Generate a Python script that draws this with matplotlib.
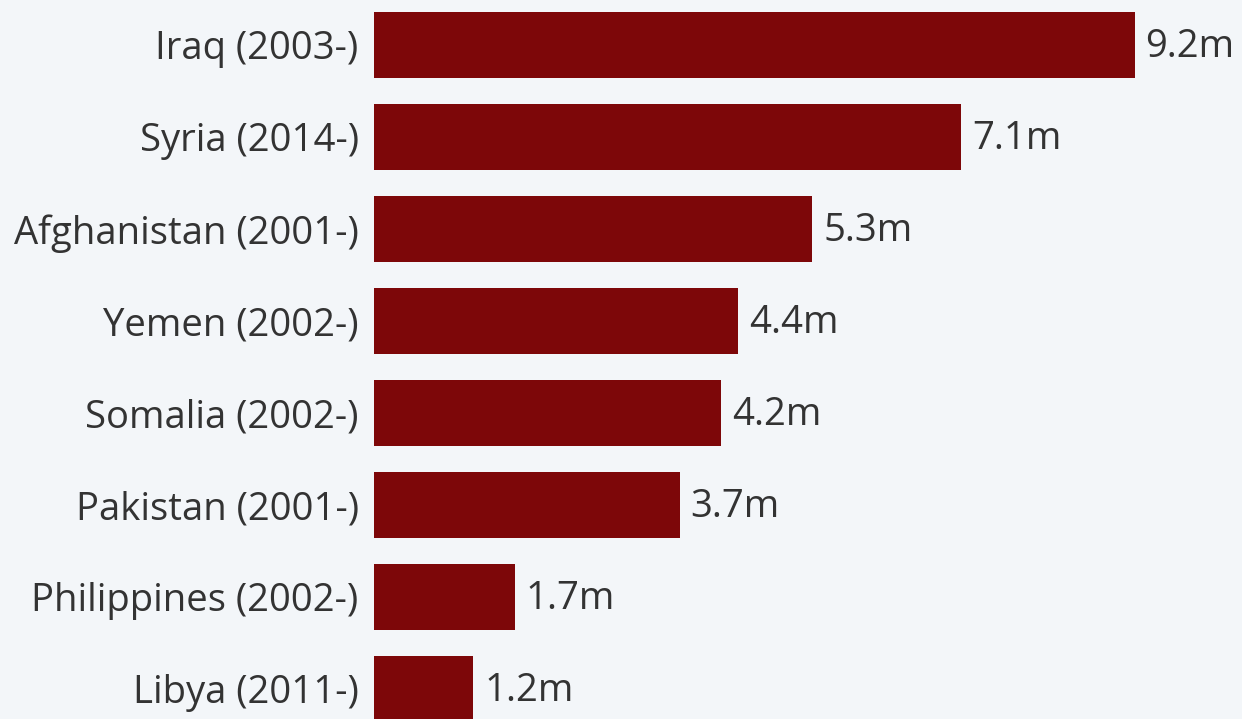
import matplotlib.pyplot as plt

# Data
countries = ['Iraq (2003-)', 'Syria (2014-)', 'Afghanistan (2001-)', 'Yemen (2002-)',
             'Somalia (2002-)', 'Pakistan (2001-)', 'Philippines (2002-)', 'Libya (2011-)']
displaced = [9.2, 7.1, 5.3, 4.4, 4.2, 3.7, 1.7, 1.2]

bg = '#f3f6f9'
bar_color = '#7d0709'
text_color = '#333333'

plt.rcParams['font.family'] = ['Open Sans', 'DejaVu Sans']

fig = plt.figure(figsize=(12.42, 7.19), dpi=100, facecolor=bg)
ax = fig.add_axes([374 / 1242, 0, 1 - 374 / 1242, 1], facecolor=bg)

y = range(len(countries))
ax.barh(y, displaced, height=0.72, color=bar_color)

# value labels at the end of each bar
for i, v in enumerate(displaced):
    ax.text(v + 0.13, i + 0.02, f'{v}m', va='center', ha='left',
            fontsize=27.5, color=text_color)

ax.set_yticks(list(y))
ax.set_yticklabels(countries, fontsize=27.5, color=text_color)
ax.tick_params(axis='y', length=0, pad=11)
ax.set_xticks([])
ax.set_xlim(0, 868 / 82.7)
ax.set_ylim(674 / 92, -45 / 92)

for s in ax.spines.values():
    s.set_visible(False)

fig.savefig('out.png', dpi=100, facecolor=bg)
